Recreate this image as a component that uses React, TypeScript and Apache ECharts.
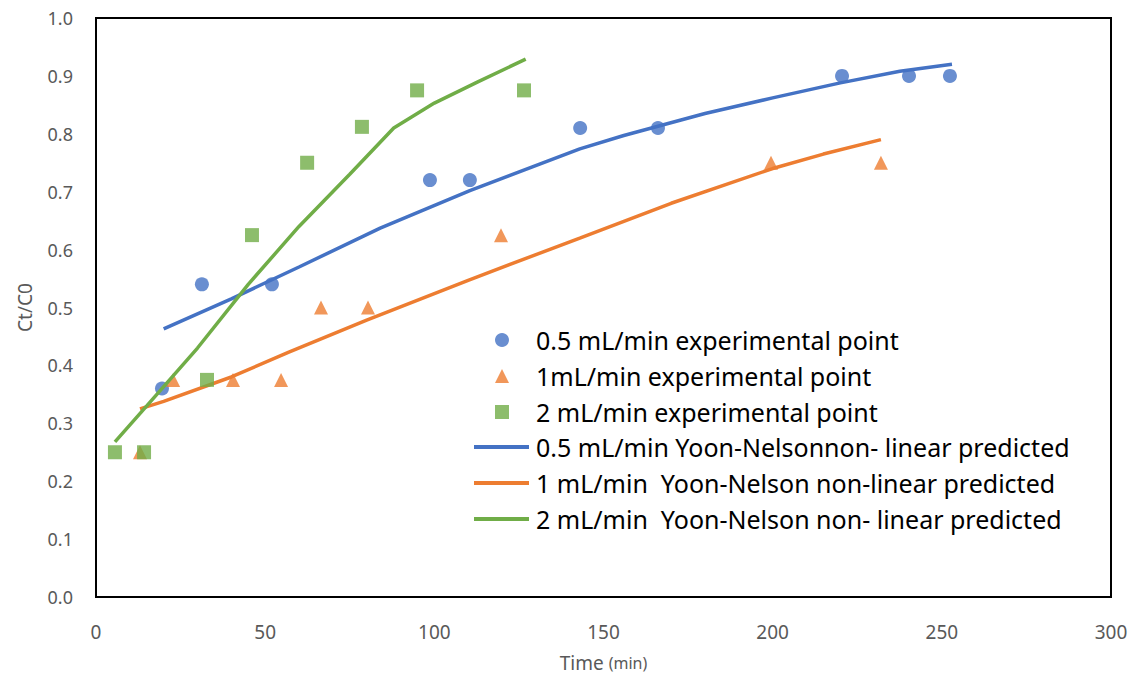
import React, { useEffect, useRef } from "react";
import * as echarts from "echarts";

const xTicks = [0, 50, 100, 150, 200, 250, 300];

const blueX = [19.5, 31.3, 52, 98.7, 110.5, 143.1, 166.1, 220.5, 240.3, 252.4];
const blueY = [0.36, 0.54, 0.54, 0.72, 0.72, 0.81, 0.81, 0.9, 0.9, 0.9];

const orangeX = [13, 22.8, 40.5, 54.7, 66.5, 80.4, 119.7, 199.5, 232];
const orangeY = [0.25, 0.375, 0.375, 0.375, 0.5, 0.5, 0.625, 0.75, 0.75];

const greenX = [5.6, 14.2, 32.8, 46.1, 62.4, 78.6, 94.9, 126.5];
const greenY = [0.25, 0.25, 0.375, 0.625, 0.75, 0.812, 0.875, 0.875];

const blueLineX = [20, 40, 60, 84, 110.5, 143, 156, 180, 200, 220, 237.6, 253];
const blueLineY = [0.463, 0.515, 0.57, 0.637, 0.702, 0.774, 0.797, 0.835, 0.862, 0.888, 0.908, 0.92];

const orangeLineX = [13, 20, 40, 57, 80, 110, 143, 170, 200, 215, 232];
const orangeLineY = [0.325, 0.338, 0.38, 0.423, 0.478, 0.547, 0.62, 0.68, 0.74, 0.765, 0.79];

const greenLineX = [5.6, 15, 30, 45, 60, 75, 88, 100, 113, 127];
const greenLineY = [0.268, 0.33, 0.43, 0.54, 0.64, 0.73, 0.81, 0.853, 0.89, 0.929];

const names = [
  "0.5 mL/min experimental point",
  "1mL/min experimental point",
  "2 mL/min experimental point",
  "0.5 mL/min Yoon-Nelsonnon- linear predicted",
  "1 mL/min  Yoon-Nelson non-linear predicted",
  "2 mL/min  Yoon-Nelson non- linear predicted",
];

const BLUE = "#4472C4";
const ORANGE = "#ED7D31";
const GREEN = "#70AD47";

const zip = (xs: number[], ys: number[]) => xs.map((x, i) => [x, ys[i]]);

export default function App() {
  const ref = useRef<HTMLDivElement>(null);
  useEffect(() => {
    if (!ref.current) return;
    const chart = echarts.init(ref.current, undefined, { renderer: "svg" });
    const legendText = {
      fontSize: 25,
      color: "#000",
      fontFamily: "Noto Sans, sans-serif",
      lineHeight: 26,
    };
    chart.setOption({
      animation: false,
      backgroundColor: "#fff",
      grid: {
        left: 96,
        right: 36,
        top: 18,
        bottom: 82,
        show: true,
        borderColor: "#000",
        borderWidth: 2,
      },
      xAxis: {
        type: "value",
        min: xTicks[0],
        max: xTicks[xTicks.length - 1],
        interval: 50,
        name: "{a|Time }{b|(min)}",
        nameLocation: "middle",
        nameGap: 56,
        nameTextStyle: {
          rich: {
            a: { fontSize: 19, color: "#595959", fontFamily: "Liberation Sans Narrow, Noto Sans, sans-serif" },
            b: { fontSize: 16, color: "#595959", fontFamily: "Liberation Sans Narrow, Noto Sans, sans-serif" },
          },
        },
        axisLine: { show: true, lineStyle: { color: "#000", width: 2 } },
        axisTick: { show: false },
        splitLine: { show: false },
        axisLabel: {
          margin: 25,
          fontSize: 19,
          color: "#595959",
          fontFamily: "Liberation Sans Narrow, Noto Sans, sans-serif",
        },
      },
      yAxis: {
        type: "value",
        min: 0,
        max: 1,
        interval: 0.1,
        name: "Ct/C0",
        nameLocation: "middle",
        nameGap: 62,
        nameTextStyle: { fontSize: 19, color: "#595959", fontFamily: "Noto Sans, sans-serif" },
        axisLine: { show: true, lineStyle: { color: "#000", width: 2 } },
        axisTick: { show: false },
        splitLine: { show: false },
        axisLabel: {
          margin: 23,
          fontSize: 18,
          color: "#595959",
          fontFamily: "Noto Sans, sans-serif",
          formatter: (v: number) => v.toFixed(1),
        },
      },
      legend: [
        {
          orient: "vertical",
          left: 490,
          top: 322,
          itemWidth: 14,
          itemHeight: 14,
          itemGap: 10,
          data: [
            { name: names[0], icon: "circle" },
            { name: names[1], icon: "triangle" },
            { name: names[2], icon: "rect" },
          ],
          textStyle: { ...legendText, padding: [0, 0, 0, 22] },
        },
        {
          orient: "vertical",
          left: 469,
          top: 429,
          itemWidth: 55,
          itemHeight: 4,
          itemGap: 10,
          data: [
            { name: names[3], icon: "rect" },
            { name: names[4], icon: "rect" },
            { name: names[5], icon: "rect" },
          ],
          textStyle: { ...legendText, padding: [0, 0, 0, 2] },
        },
      ],
      series: [
        {
          name: names[0],
          type: "scatter",
          data: zip(blueX, blueY),
          symbol: "circle",
          symbolSize: 14,
          itemStyle: { color: BLUE },
          z: 2,
        },
        {
          name: names[1],
          type: "scatter",
          data: zip(orangeX, orangeY),
          symbol: "triangle",
          symbolSize: 14,
          itemStyle: { color: ORANGE },
          z: 2,
        },
        {
          name: names[4],
          type: "line",
          data: zip(orangeLineX, orangeLineY),
          showSymbol: false,
          symbol: "none",
          lineStyle: { color: ORANGE, width: 3.5 },
          itemStyle: { color: ORANGE },
          z: 3,
        },
        {
          name: names[2],
          type: "scatter",
          data: zip(greenX, greenY),
          symbol: "rect",
          symbolSize: 14,
          itemStyle: { color: GREEN },
          z: 4,
        },
        {
          name: names[3],
          type: "line",
          data: zip(blueLineX, blueLineY),
          showSymbol: false,
          symbol: "none",
          lineStyle: { color: BLUE, width: 3.5 },
          itemStyle: { color: BLUE },
          z: 5,
        },
        {
          name: names[5],
          type: "line",
          data: zip(greenLineX, greenLineY),
          showSymbol: false,
          symbol: "none",
          lineStyle: { color: GREEN, width: 3.5 },
          itemStyle: { color: GREEN },
          z: 6,
        },
      ],
    });
    return () => chart.dispose();
  }, []);
  return (
    <div
      ref={ref}
      style={{ position: "fixed", left: 0, top: 0, width: 1147, height: 679 }}
    />
  );
}
